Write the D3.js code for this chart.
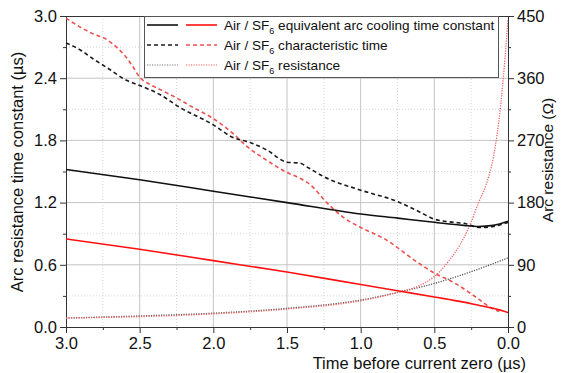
<!DOCTYPE html>
<html><head><meta charset="utf-8">
<script src="https://cdn.jsdelivr.net/npm/d3@7"></script>
<style>body{margin:0;background:#fff;} svg{display:block;font-family:Arial,"Liberation Sans",sans-serif;}</style>
</head><body><svg id="c" width="566" height="373"></svg>
<script>
// ---- data ----
const xTicks = [3.0, 2.5, 2.0, 1.5, 1.0, 0.5, 0.0];
const yLeftTicks = [0.0, 0.6, 1.2, 1.8, 2.4, 3.0];
const yRightTicks = [0, 90, 180, 270, 360, 450];

const tCool = [3.0, 2.5, 2.0, 1.5, 1.0, 0.75, 0.5, 0.3, 0.2, 0.1, 0.0];
const airCool = [1.52, 1.42, 1.31, 1.20, 1.09, 1.05, 1.01, 0.98, 0.97, 0.98, 1.02];
const sf6Cool = [0.85, 0.75, 0.64, 0.53, 0.41, 0.35, 0.29, 0.24, 0.21, 0.18, 0.14];

const tAirChar = [3.0, 2.9, 2.82, 2.72, 2.59, 2.5, 2.36, 2.23, 2.0, 1.87, 1.75, 1.64, 1.5, 1.41, 1.36, 1.25, 1.0, 0.75, 0.6, 0.5, 0.37, 0.3, 0.19, 0.1, 0.0];
const airChar = [2.74, 2.67, 2.59, 2.50, 2.38, 2.33, 2.24, 2.12, 1.95, 1.83, 1.78, 1.71, 1.59, 1.58, 1.54, 1.45, 1.32, 1.21, 1.11, 1.04, 1.01, 1.00, 0.96, 0.97, 1.01];

const tSf6Char = [3.0, 2.9, 2.82, 2.72, 2.65, 2.59, 2.55, 2.5, 2.43, 2.36, 2.25, 2.14, 2.0, 1.87, 1.77, 1.64, 1.5, 1.42, 1.34, 1.23, 1.12, 1.0, 0.85, 0.6, 0.5, 0.37, 0.21, 0.11, 0.06];
const sf6Char = [2.98, 2.89, 2.83, 2.77, 2.69, 2.60, 2.52, 2.41, 2.34, 2.29, 2.21, 2.12, 2.01, 1.87, 1.74, 1.61, 1.49, 1.44, 1.37, 1.20, 1.06, 0.96, 0.86, 0.61, 0.52, 0.43, 0.28, 0.18, 0.15];

const tAirRes = [3.0, 2.5, 2.0, 1.5, 1.0, 0.75, 0.5, 0.25, 0.0];
const airRes = [13, 16, 20, 27, 39, 50, 63, 80, 100];
const tSf6Res = [3.0, 2.5, 2.0, 1.5, 1.0, 0.75, 0.6, 0.5, 0.4, 0.3, 0.25, 0.2, 0.15, 0.1, 0.05, 0.02, 0.0];
const sf6Res = [13, 15, 19, 26, 38, 50, 60, 73, 96, 129, 152, 180, 205, 245, 320, 390, 445];

const legendLabels = ["equivalent arc cooling time constant", "characteristic time", "resistance"];

// ---- layout ----
const svg = d3.select("#c");
const L = 66, R = 508, T = 16, B = 327;
const x = d3.scaleLinear().domain([3, 0]).range([L, R]);
const yL = d3.scaleLinear().domain([0, 3]).range([B, T]);
const yR = d3.scaleLinear().domain([0, 450]).range([B, T]);

const g = svg.append("g");

// grid
const xMinor = d3.range(0, 13).map(i => i * 0.25).filter(v => Math.abs(v * 2 - Math.round(v * 2)) > 1e-6);
const yMinor = [0.3, 0.9, 1.5, 2.1, 2.7];
g.selectAll(".gxm").data(xMinor).join("line")
  .attr("x1", d => x(d)).attr("x2", d => x(d)).attr("y1", T).attr("y2", B)
  .attr("stroke", "#d6d6d6").attr("stroke-width", 1).attr("stroke-dasharray", "1,2");
g.selectAll(".gym").data(yMinor).join("line")
  .attr("y1", d => yL(d)).attr("y2", d => yL(d)).attr("x1", L).attr("x2", R)
  .attr("stroke", "#d6d6d6").attr("stroke-width", 1).attr("stroke-dasharray", "1,2");
g.selectAll(".gx").data(xTicks.slice(1, -1)).join("line")
  .attr("x1", d => x(d)).attr("x2", d => x(d)).attr("y1", T).attr("y2", B)
  .attr("stroke", "#c4c4c4").attr("stroke-width", 1);
g.selectAll(".gy").data(yLeftTicks.slice(1, -1)).join("line")
  .attr("y1", d => yL(d)).attr("y2", d => yL(d)).attr("x1", L).attr("x2", R)
  .attr("stroke", "#c4c4c4").attr("stroke-width", 1);

// frame top
g.append("line").attr("x1", L).attr("x2", R).attr("y1", T + 0.5).attr("y2", T + 0.5).attr("stroke", "#333");

// axes
const fs = "16.5px";
const xAxis = d3.axisBottom(x).tickValues(xTicks).tickFormat(d3.format(".1f")).tickSize(6).tickPadding(4);
const xAxisMinor = d3.axisBottom(x).tickValues(xMinor).tickFormat("").tickSize(3);
const yAxisL = d3.axisLeft(yL).tickValues(yLeftTicks).tickFormat(d3.format(".1f")).tickSize(6).tickPadding(3);
const yAxisLMinor = d3.axisLeft(yL).tickValues(yMinor).tickFormat("").tickSize(3);
const yAxisR = d3.axisRight(yR).tickValues(yRightTicks).tickFormat(d3.format("d")).tickSize(6).tickPadding(3);
const yAxisRMinor = d3.axisRight(yR).tickValues([45, 135, 225, 315, 405]).tickFormat("").tickSize(3);

function style(sel) {
  sel.selectAll("path,line").attr("stroke", "#333");
  sel.selectAll("text").attr("fill", "#111").style("font-size", fs).style("font-family", "Arial, 'Liberation Sans', sans-serif");
}
g.append("g").attr("transform", `translate(0,${B})`).call(xAxis).call(style);
g.append("g").attr("transform", `translate(0,${B})`).call(xAxisMinor).call(style).select(".domain").remove();
g.append("g").attr("transform", `translate(${L},0)`).call(yAxisL).call(style);
g.append("g").attr("transform", `translate(${L},0)`).call(yAxisLMinor).call(style).select(".domain").remove();
g.append("g").attr("transform", `translate(${R},0)`).call(yAxisR).call(style);
g.append("g").attr("transform", `translate(${R},0)`).call(yAxisRMinor).call(style).select(".domain").remove();

// axis titles
svg.append("text").attr("transform", "translate(23,172) rotate(-90)").attr("text-anchor", "middle")
  .style("font-size", "16.5px").attr("fill", "#111").text("Arc resistance time constant (\u00B5s)");
svg.append("text").attr("transform", "translate(553,160) rotate(-90)").attr("text-anchor", "middle")
  .style("font-size", "15.5px").attr("fill", "#111").text("Arc resistance (\u03A9)");
svg.append("text").attr("x", 526).attr("y", 369).attr("text-anchor", "end")
  .style("font-size", "16.5px").attr("fill", "#111").text("Time before current zero (\u00B5s)");

// lines
svg.append("clipPath").attr("id", "clp").append("rect").attr("x", L).attr("y", T).attr("width", R - L).attr("height", B - T);
const lg = svg.append("g").attr("clip-path", "url(#clp)");
function draw(ts, vs, ys, color, width, dash) {
  const pts = ts.map((t, i) => [x(t), ys(vs[i])]);
  lg.append("path").attr("d", d3.line().curve(d3.curveMonotoneX)(pts))
    .attr("fill", "none").attr("stroke", color).attr("stroke-width", width)
    .attr("stroke-dasharray", dash);
}
const redDash = "#f05050", redDot = "#f06060";
draw(tAirRes, airRes, yR, "#555", 1.3, "1.2,1.3");
draw(tSf6Res, sf6Res, yR, redDot, 1.3, "1.2,1.3");
draw(tSf6Char, sf6Char, yL, redDash, 1.6, "4,3");
draw(tAirChar, airChar, yL, "#1a1a1a", 1.6, "4,3");
draw(tCool, sf6Cool, yL, "#ff1010", 1.6, null);
draw(tCool, airCool, yL, "#111", 1.6, null);

// legend
const leg = svg.append("g");
leg.append("rect").attr("x", 144.5).attr("y", 16.5).attr("width", 354).attr("height", 61)
  .attr("fill", "#fff").attr("stroke", "#555").attr("stroke-width", 1);
const legY = [25, 45, 65];
const legStyle = [
  {k: "#111", r: "#ff1010", w: 1.6, d: null},
  {k: "#1a1a1a", r: redDash, w: 1.6, d: "4,3"},
  {k: "#777", r: redDot, w: 1.2, d: "1.2,1.3"}
];
legendLabels.forEach((lab, i) => {
  const s = legStyle[i];
  leg.append("line").attr("x1", 147).attr("x2", 178).attr("y1", legY[i]).attr("y2", legY[i])
    .attr("stroke", s.k).attr("stroke-width", s.w).attr("stroke-dasharray", s.d);
  leg.append("line").attr("x1", 186).attr("x2", 217).attr("y1", legY[i]).attr("y2", legY[i])
    .attr("stroke", s.r).attr("stroke-width", s.w).attr("stroke-dasharray", s.d);
  const t = leg.append("text").attr("x", 224).attr("y", legY[i] + 5).style("font-size", "13.6px").attr("fill", "#111");
  t.append("tspan").text("Air / SF");
  t.append("tspan").attr("dy", 3.5).style("font-size", "9px").text("6");
  t.append("tspan").attr("dy", -3.5).text(" " + lab);
});
</script></body></html>
